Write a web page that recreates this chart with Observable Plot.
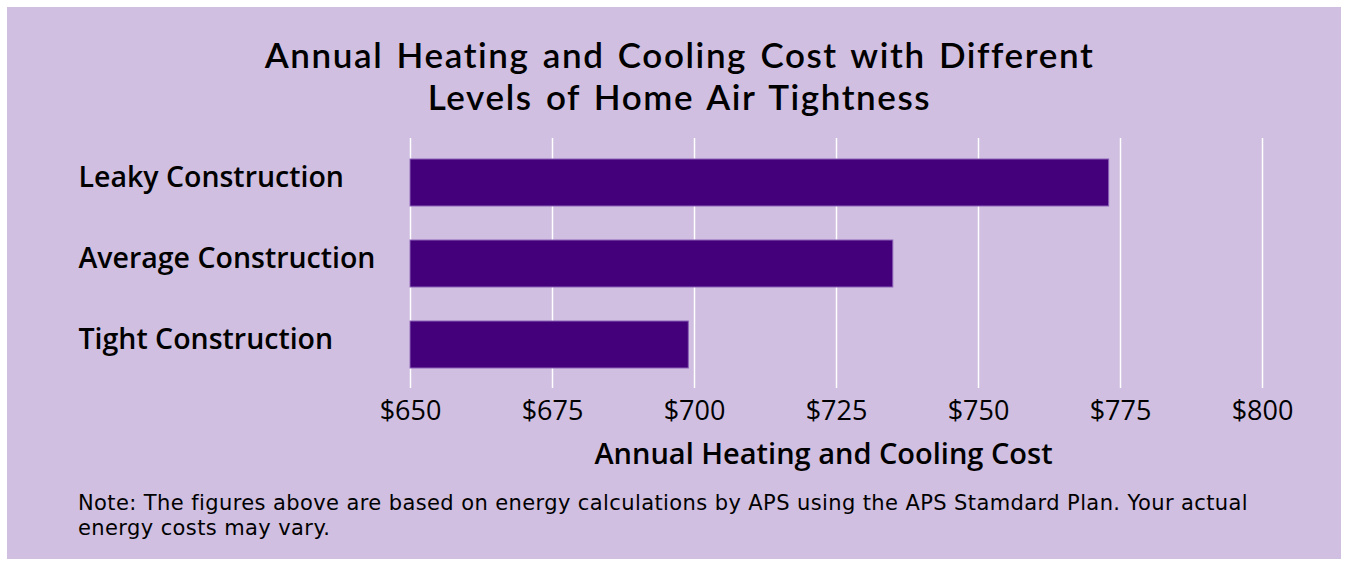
<!DOCTYPE html>
<html>
<head>
<meta charset="utf-8">
<script src="https://cdn.jsdelivr.net/npm/d3@7"></script>
<script src="https://cdn.jsdelivr.net/npm/@observablehq/plot@0.6"></script>
<style>
  html, body { margin: 0; padding: 0; }
  body { width: 1347px; height: 567px; background: #ffffff; position: relative; overflow: hidden; font-family: "Open Sans", sans-serif; color: #000; }
  #panel { position: absolute; left: 7px; top: 7px; width: 1334px; height: 552px; background: #d0bfe0; }
  .title { position: absolute; left: 0; width: 1359px; text-align: center; font-family: Lato, sans-serif; font-size: 35px; font-weight: 600; line-height: 42px; letter-spacing: 1.6px; word-spacing: 3px; white-space: nowrap; }
  #chart { position: absolute; left: 0; top: 118px; }
  .note { position: absolute; left: 78px; font-family: "DejaVu Sans", sans-serif; font-size: 21px; line-height: 24.5px; letter-spacing: 0.4px; white-space: nowrap; }
</style>
</head>
<body>
<div id="panel"></div>
<div class="title" style="top:33px">Annual Heating and Cooling Cost with Different</div>
<div class="title" style="top:75px">Levels of Home Air Tightness</div>
<div id="chart"></div>
<div class="note" style="top:491px">Note: The figures above are based on energy calculations by APS using the APS Stamdard Plan. Your actual</div>
<div class="note" style="top:515.5px">energy costs may vary.</div>
<script>
// ---- data ----
const categories = ["Leaky Construction", "Average Construction", "Tight Construction"];
const costs = [773, 735, 699];
const xTicks = [650, 675, 700, 725, 750, 775, 800];
const xLabel = "Annual Heating and Cooling Cost";

const rows = categories.map((c, i) => ({category: c, cost: costs[i]}));
const baseline = xTicks[0];
const fmt = d => "$" + d;

const chart = Plot.plot({
  width: 1347,
  height: 360,
  marginLeft: 410,
  marginRight: 85,
  marginTop: 20,
  marginBottom: 90,
  style: {background: "transparent", fontFamily: "'Open Sans', sans-serif", color: "#000"},
  x: {domain: [xTicks[0], xTicks[xTicks.length - 1]], ticks: xTicks, tickFormat: fmt},
  y: {domain: categories, paddingInner: 0.42, paddingOuter: 0.25},
  marks: [
    Plot.gridX(xTicks, {stroke: "#ffffff", strokeOpacity: 1, strokeWidth: 1.5}),
    Plot.barX(rows, {y: "category", x1: baseline, x2: "cost", fill: "#44007a", stroke: "#8a62b8", strokeWidth: 1}),
    Plot.axisX(xTicks, {tickSize: 0, tickPadding: 12, tickFormat: fmt, fontSize: 27, label: null, fill: "#000"}),
    Plot.axisY({tickSize: 0, tickPadding: 332, textAnchor: "start", fontSize: 28.5, fontWeight: 600, dy: -5, label: null, fill: "#000"}),
    Plot.text([xLabel], {frameAnchor: "bottom", dy: 75, dx: -13, fontSize: 29, fontWeight: 600, fill: "#000"})
  ]
});
document.getElementById("chart").appendChild(chart);
</script>
</body>
</html>
